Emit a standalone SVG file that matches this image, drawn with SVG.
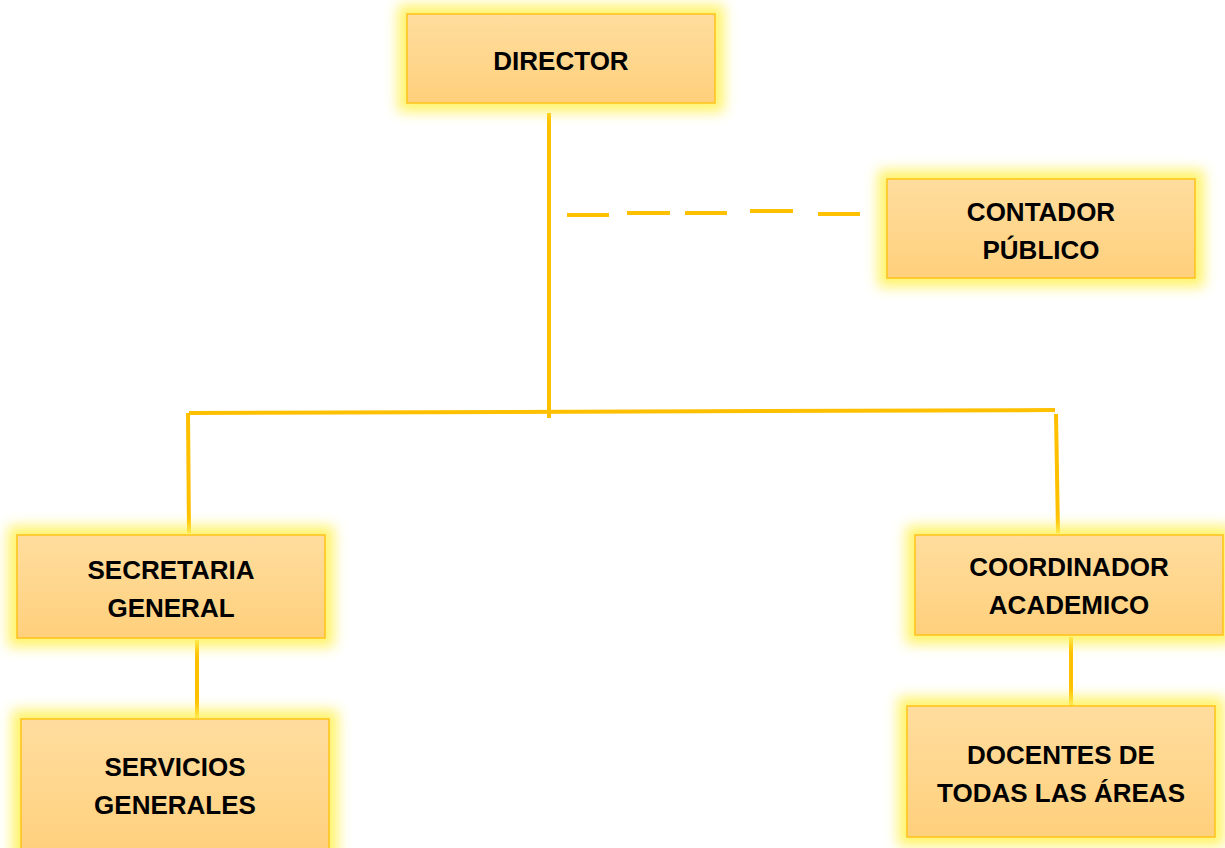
<svg xmlns="http://www.w3.org/2000/svg" width="1225" height="848" viewBox="0 0 1225 848">
<style>
.box{fill:url(#g);stroke:#FFC21A;stroke-width:1.5}
.glow{fill:#FFF25A;filter:url(#blur);opacity:0.9}
.t{font-family:"Liberation Sans",Arial,sans-serif;font-weight:bold;font-size:26px;fill:#000;text-anchor:middle}
.ln{stroke:#FFC000;stroke-width:4;fill:none}
</style>
<defs>
<linearGradient id="g" x1="0" y1="0" x2="0" y2="1">
<stop offset="0" stop-color="#FFDD9E"/>
<stop offset="1" stop-color="#FFD07C"/>
</linearGradient>
<filter id="blur" x="-20%" y="-30%" width="140%" height="160%">
<feGaussianBlur stdDeviation="6.5"/>
</filter>
</defs>
<rect width="1225" height="848" fill="#fff"/>
<g id="connectors">
<line class="ln" x1="549" y1="113" x2="549" y2="418"/>
<line class="ln" x1="189" y1="413" x2="1055" y2="410"/>
<line class="ln" x1="188" y1="413" x2="189" y2="533"/>
<line class="ln" x1="1056" y1="414" x2="1058" y2="533"/>
<line class="ln" x1="197" y1="640" x2="197" y2="718"/>
<line class="ln" x1="1071" y1="637" x2="1071" y2="706"/>
<g class="ln">
<line x1="567" y1="215" x2="609" y2="215"/>
<line x1="627" y1="213" x2="670" y2="213"/>
<line x1="685" y1="213" x2="727" y2="213"/>
<line x1="750" y1="211" x2="793" y2="211"/>
<line x1="818" y1="214" x2="860" y2="214"/>
</g>
</g>
<g id="director">
<rect class="glow" x="398" y="5" width="326" height="107"/>
<rect class="box" x="407" y="14" width="308" height="89"/>
<text class="t" x="561" y="70">DIRECTOR</text>
</g>
<g id="contador">
<rect class="glow" x="878" y="170" width="326" height="117"/>
<rect class="box" x="887" y="179" width="308" height="99"/>
<text class="t" x="1041" y="221">CONTADOR</text>
<text class="t" x="1041" y="259">PÚBLICO</text>
</g>
<g id="secretaria">
<rect class="glow" x="8" y="526" width="326" height="121"/>
<rect class="box" x="17" y="535" width="308" height="103"/>
<text class="t" x="171" y="579">SECRETARIA</text>
<text class="t" x="171" y="617">GENERAL</text>
</g>
<g id="servicios">
<rect class="glow" x="12" y="710" width="326" height="152"/>
<rect class="box" x="21" y="719" width="308" height="140"/>
<text class="t" x="175" y="776">SERVICIOS</text>
<text class="t" x="175" y="814">GENERALES</text>
</g>
<g id="coordinador">
<rect class="glow" x="906" y="526" width="326" height="118"/>
<rect class="box" x="915" y="535" width="308" height="100"/>
<text class="t" x="1069" y="576">COORDINADOR</text>
<text class="t" x="1069" y="614">ACADEMICO</text>
</g>
<g id="docentes">
<rect class="glow" x="898" y="697" width="326" height="149"/>
<rect class="box" x="907" y="706" width="308" height="131"/>
<text class="t" x="1061" y="764">DOCENTES DE</text>
<text class="t" x="1061" y="802">TODAS LAS ÁREAS</text>
</g>
</svg>
